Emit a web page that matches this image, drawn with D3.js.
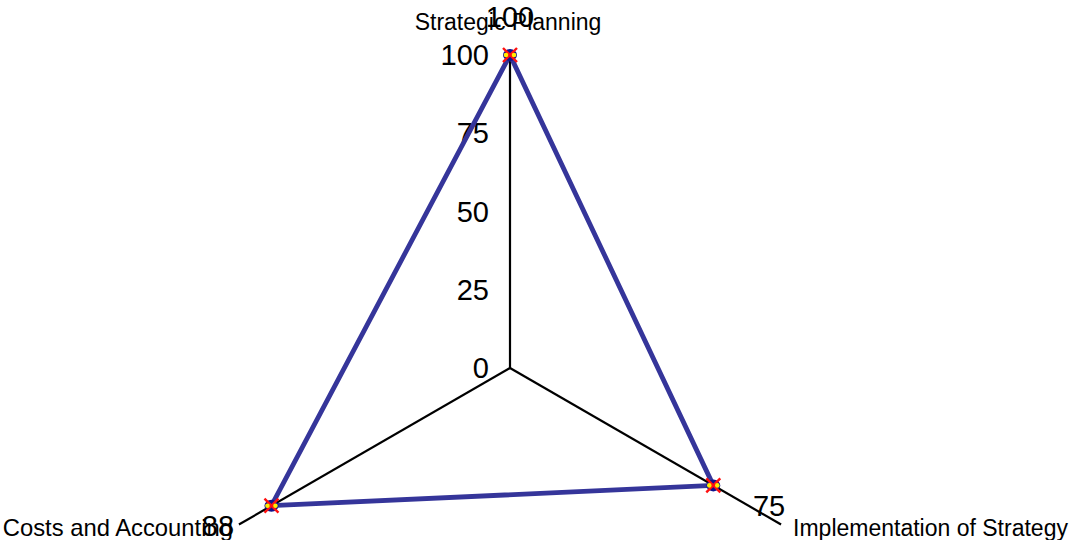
<!DOCTYPE html>
<html><head><meta charset="utf-8">
<script src="https://cdn.jsdelivr.net/npm/d3@7"></script>
<style>body{margin:0;background:#fff}svg{display:block}text{font-family:"Liberation Sans",Arial,sans-serif}</style>
</head><body><svg id="c" width="1070" height="540"></svg>
<script>
const categories = ["Strategic Planning", "Implementation of Strategy", "Costs and Accounting"];
const values = [100, 75, 88];
const tickValues = [0, 25, 50, 75, 100];
const tickLabels = ["0", "25", "50", "75", "100"];

const svg = d3.select("#c");
const cx = 510, cy = 368, R = 313;
const r = d3.scaleLinear().domain([0, 100]).range([0, R]);
const ang = d3.scalePoint().domain(categories).range([0, 2*Math.PI*2/3]);
const pt = (c, v) => { const a = ang(c) - Math.PI/2; return [cx + r(v)*Math.cos(a), cy + r(v)*Math.sin(a)]; };

const g = svg.append("g");
// axes
categories.forEach(c => {
  const [x, y] = pt(c, 100);
  g.append("line").attr("x1", cx).attr("y1", cy).attr("x2", x).attr("y2", y)
    .attr("stroke", "#000").attr("stroke-width", 2.2);
});
// ticks on first axis
tickValues.forEach((t, i) => {
  const [x, y] = pt(categories[0], t);
  g.append("text").attr("x", x - 21).attr("y", y + 10).attr("text-anchor", "end")
    .attr("font-size", 29).text(tickLabels[i]);
});
// polygon
const line = d3.line().curve(d3.curveLinearClosed);
const pts = categories.map((c, i) => pt(c, values[i]));
g.append("path").attr("d", line(pts)).attr("fill", "none")
  .attr("stroke", "#35359a").attr("stroke-width", 4.8).attr("stroke-linejoin", "round");
// markers
pts.forEach(([x, y]) => {
  g.append("ellipse").attr("cx", x).attr("cy", y).attr("rx", 7).attr("ry", 6).attr("fill", "#10108c");
  g.append("path").attr("d", `M${x-7},${y-7}L${x+7},${y+7}M${x-7},${y+7}L${x+7},${y-7}`).attr("stroke", "#ff1010").attr("stroke-width", 2.4);
  g.append("circle").attr("cx", x-4).attr("cy", y).attr("r", 2.3).attr("fill", "#ffee00");
  g.append("circle").attr("cx", x+4).attr("cy", y).attr("r", 2.3).attr("fill", "#ffee00");
});
// category labels
const catOff = [[-2, -338, "middle"], [12, 11, "start"], [-6, 11, "end"]];
categories.forEach((c, i) => {
  const [x, y] = pt(c, 0);
  const [ex, ey] = pt(c, 100);
  const o = catOff[i];
  const px = i === 0 ? x + o[0] : ex + o[0];
  const py = i === 0 ? y + o[1] : ey + o[1];
  g.append("text").attr("x", px).attr("y", py).attr("text-anchor", o[2]).attr("font-size", i === 2 ? 23.8 : 23).text(c);
});
// value labels
const valOff = [[0, -28], [-12, -9], [-21, 11]];
categories.forEach((c, i) => {
  const [ex, ey] = pt(c, 100);
  g.append("text").attr("x", ex + valOff[i][0]).attr("y", ey + valOff[i][1]).attr("text-anchor", "middle")
    .attr("font-size", 29).text(values[i]);
});
</script></body></html>
